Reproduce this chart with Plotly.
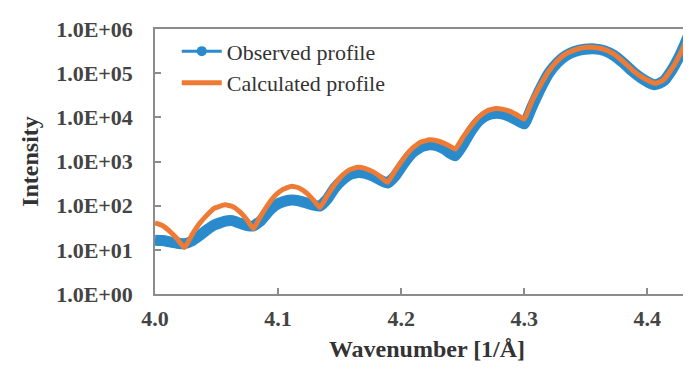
import numpy as np
import plotly.graph_objects as go

# Wavenumber grid [1/Å]
wavenumber = [4.000, 4.006, 4.012, 4.018, 4.024, 4.030, 4.036, 4.042, 4.048, 4.057,
              4.063, 4.069, 4.075, 4.080, 4.086, 4.092, 4.098, 4.104, 4.111, 4.117,
              4.123, 4.129, 4.134, 4.140, 4.146, 4.152, 4.158, 4.165, 4.171, 4.177,
              4.183, 4.189, 4.195, 4.202, 4.209, 4.216, 4.223, 4.229, 4.235, 4.240,
              4.244, 4.250, 4.257, 4.264, 4.270, 4.277, 4.283, 4.289, 4.295, 4.300,
              4.306, 4.313, 4.320, 4.327, 4.334, 4.341, 4.349, 4.357, 4.365, 4.373,
              4.381, 4.388, 4.395, 4.401, 4.406, 4.410, 4.414, 4.418, 4.422, 4.426,
              4.430, 4.435]

# log10(Intensity)
observed_log10 = [1.22, 1.21, 1.18, 1.15, 1.14, 1.20, 1.32, 1.45, 1.56, 1.65,
                  1.66, 1.60, 1.55, 1.54, 1.66, 1.86, 2.01, 2.09, 2.13, 2.11,
                  2.06, 2.01, 1.99, 2.15, 2.40, 2.58, 2.70, 2.75, 2.73, 2.67,
                  2.58, 2.51, 2.67, 2.95, 3.19, 3.33, 3.38, 3.36, 3.28, 3.18,
                  3.13, 3.37, 3.70, 3.94, 4.05, 4.09, 4.07, 4.01, 3.92, 3.85,
                  4.22, 4.64, 5.00, 5.24, 5.40, 5.49, 5.54, 5.55, 5.51, 5.40,
                  5.22, 5.04, 4.89, 4.79, 4.74, 4.77, 4.84, 4.99, 5.17, 5.38,
                  5.62, 5.95]

calculated_log10 = [1.61, 1.55, 1.42, 1.25, 1.05, 1.34, 1.59, 1.78, 1.94, 2.02,
                    1.98, 1.86, 1.67, 1.48, 1.77, 2.03, 2.24, 2.37, 2.44, 2.40,
                    2.29, 2.12, 1.96, 2.23, 2.48, 2.68, 2.81, 2.87, 2.84, 2.77,
                    2.66, 2.53, 2.79, 3.07, 3.30, 3.44, 3.49, 3.47, 3.41, 3.34,
                    3.28, 3.54, 3.81, 4.03, 4.15, 4.20, 4.18, 4.13, 4.04, 3.96,
                    4.35, 4.72, 5.05, 5.28, 5.44, 5.53, 5.58, 5.58, 5.54, 5.43,
                    5.25, 5.07, 4.92, 4.83, 4.77, 4.80, 4.87, 5.02, 5.19, 5.40,
                    5.64, 5.97]

y_tick_values = [1, 10, 100, 1000, 10000, 100000, 1000000]
y_tick_labels = ["1.0E+00", "1.0E+01", "1.0E+02", "1.0E+03", "1.0E+04", "1.0E+05", "1.0E+06"]
x_tick_values = [4.0, 4.1, 4.2, 4.3, 4.4]
x_tick_labels = ["4.0", "4.1", "4.2", "4.3", "4.4"]

BLUE = "#2A8BCC"
ORANGE = "#EE7B35"
FONT = "Liberation Serif"
AXIS_GREY = "#8C8C8C"

obs_y = 10 ** np.array(observed_log10)
calc_y = 10 ** np.array(calculated_log10)

fig = go.Figure()
fig.add_trace(go.Scatter(x=wavenumber, y=obs_y, mode="lines",
                         line=dict(color=BLUE, width=11, shape="spline", smoothing=0.4),
                         showlegend=False, name="Observed profile"))
fig.add_trace(go.Scatter(x=[None], y=[None], mode="lines+markers",
                         line=dict(color=BLUE, width=3),
                         marker=dict(color=BLUE, size=10),
                         name="Observed profile"))
fig.add_trace(go.Scatter(x=wavenumber, y=calc_y, mode="lines",
                         line=dict(color=ORANGE, width=5, shape="spline", smoothing=0.4),
                         name="Calculated profile"))

fig.update_layout(
    width=691, height=370,
    margin=dict(l=147, r=0, t=21, b=84),
    paper_bgcolor="white", plot_bgcolor="white",
    font=dict(family=FONT, color="#333333"),
    legend=dict(x=0.04, y=0.995, xanchor="left", yanchor="top",
                bgcolor="rgba(0,0,0,0)", font=dict(family=FONT, size=22, color="#333333"),
                tracegroupgap=0, itemwidth=40),
    showlegend=True,
)
fig.update_xaxes(range=[4.0, 4.442], tickvals=x_tick_values, ticktext=x_tick_labels,
                 ticks="inside", ticklen=6, tickcolor=AXIS_GREY, tickwidth=1.5,
                 showline=True, linecolor=AXIS_GREY, linewidth=1.5, mirror=True,
                 showgrid=False, zeroline=False,
                 tickfont=dict(family=FONT, size=22, color="#444444", weight="bold"),
                 ticklabelstandoff=4,
                 title=dict(text="Wavenumber [1/Å]", standoff=10,
                            font=dict(family=FONT, size=24, color="#333333", weight="bold")))
fig.update_yaxes(type="log", range=[0, 6], tickvals=y_tick_values, ticktext=y_tick_labels,
                 ticks="inside", ticklen=6, tickcolor=AXIS_GREY, tickwidth=1.5,
                 showline=True, linecolor=AXIS_GREY, linewidth=1.5,
                 showgrid=False, zeroline=False,
                 tickfont=dict(family=FONT, size=22, color="#444444", weight="bold"),
                 ticklabelstandoff=16,
                 title=dict(text="Intensity", standoff=11,
                            font=dict(family=FONT, size=24, color="#333333", weight="bold")))

fig.write_html("out.html")
